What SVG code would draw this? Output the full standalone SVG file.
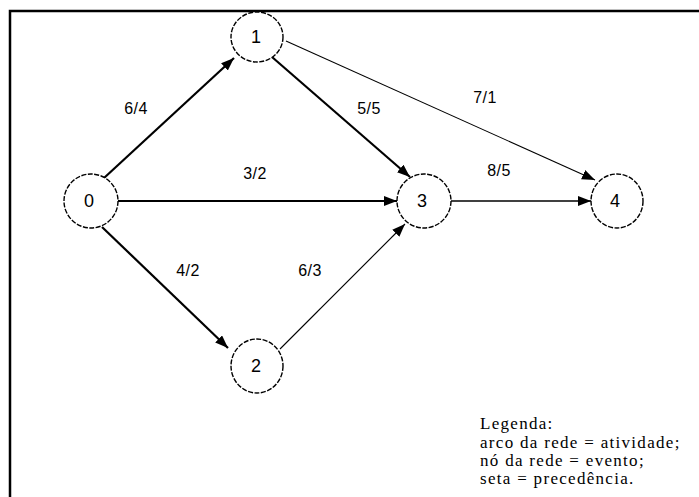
<svg xmlns="http://www.w3.org/2000/svg" width="699" height="497" viewBox="0 0 699 497">
<style>
.node ellipse{fill:#fff;stroke:#000;stroke-width:1.4;stroke-dasharray:5 1.5}
.node text{font-family:"Liberation Sans",Arial,sans-serif;font-size:18px;text-anchor:middle;fill:#000}
.lbl{font-family:"Liberation Sans",Arial,sans-serif;font-size:16px;text-anchor:middle;fill:#000;letter-spacing:0.5px}
.e{fill:none;stroke:#000}
.thick{stroke-width:2.2}
.mid{stroke-width:1.7}
.thin{stroke-width:1.1}
.leg{font-family:"Liberation Serif","Times New Roman",serif;font-size:17px;letter-spacing:1.3px;fill:#000}
</style>
<defs>
<marker id="ah" markerUnits="userSpaceOnUse" markerWidth="14" markerHeight="11" refX="13" refY="5" orient="auto">
<path d="M0,0 L13,5 L0,10 z" fill="#000"/>
</marker>
</defs>
<rect width="699" height="497" fill="#fff"/>
<g id="frame" stroke="#000" stroke-width="2.5" fill="none">
<path d="M10,497 L10,11 L699,11"/>
</g>
<g id="connectors">
<line class="e thick" x1="104" y1="178" x2="234" y2="58" marker-end="url(#ah)"/>
<line class="e thick" x1="272" y1="57" x2="410" y2="177" marker-end="url(#ah)"/>
<line class="e thin" x1="286" y1="41" x2="595" y2="180" marker-end="url(#ah)"/>
<line class="e thick" x1="118" y1="201" x2="397" y2="201" marker-end="url(#ah)"/>
<line class="e mid" x1="451" y1="201" x2="591" y2="201" marker-end="url(#ah)"/>
<line class="e thick" x1="102" y1="227" x2="228" y2="348" marker-end="url(#ah)"/>
<line class="e thin" x1="280" y1="349" x2="405" y2="224" marker-end="url(#ah)"/>
</g>
<g id="labels">
<text class="lbl" x="136" y="114">6/4</text>
<text class="lbl" x="369" y="114">5/5</text>
<text class="lbl" x="485" y="103">7/1</text>
<text class="lbl" x="255" y="179">3/2</text>
<text class="lbl" x="499" y="176">8/5</text>
<text class="lbl" x="188" y="276">4/2</text>
<text class="lbl" x="310" y="276">6/3</text>
</g>
<g id="node0" class="node"><ellipse cx="91" cy="201" rx="27" ry="27"/><text x="89" y="207">0</text></g>
<g id="node1" class="node"><ellipse cx="257" cy="37" rx="26" ry="25"/><text x="256" y="43">1</text></g>
<g id="node2" class="node"><ellipse cx="257" cy="366" rx="26" ry="27"/><text x="256" y="372">2</text></g>
<g id="node3" class="node"><ellipse cx="424" cy="201" rx="27" ry="27"/><text x="422" y="207">3</text></g>
<g id="node4" class="node"><ellipse cx="617" cy="201" rx="26" ry="27"/><text x="615" y="207">4</text></g>
<g id="legend">
<text class="leg" x="480" y="429">Legenda:</text>
<text class="leg" x="480" y="448">arco da rede = atividade;</text>
<text class="leg" x="480" y="466">nó da rede = evento;</text>
<text class="leg" x="480" y="484">seta = precedência.</text>
</g>
</svg>
